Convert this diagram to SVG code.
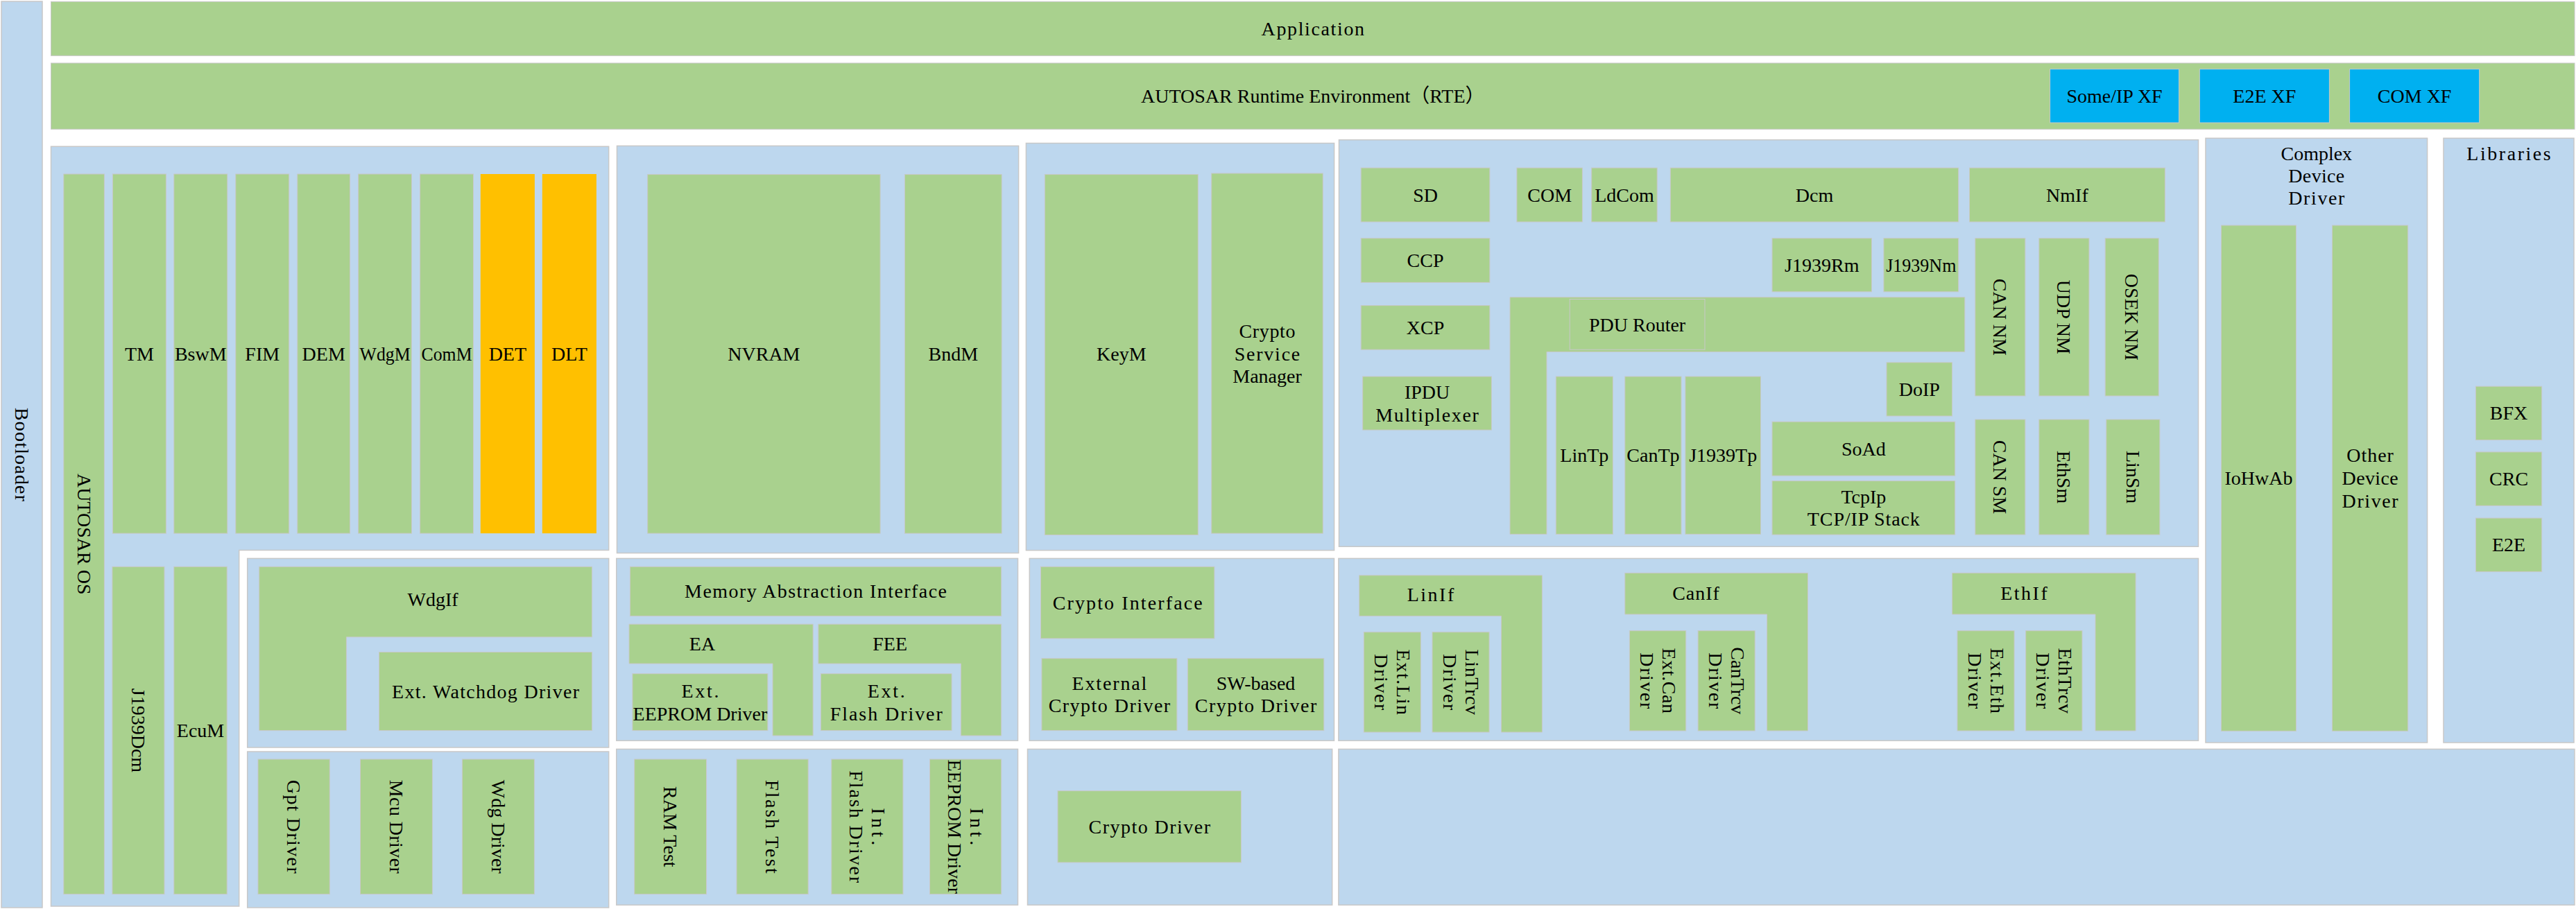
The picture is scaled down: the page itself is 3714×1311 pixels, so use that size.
<svg xmlns="http://www.w3.org/2000/svg" width="3714" height="1311" viewBox="0 0 3714 1311">
<style>
.p{fill:#BDD7EE;stroke:#C8C8C8;stroke-width:1.5}
.g{fill:#A9D18E;stroke:#C8C8C8;stroke-width:1}
.o{fill:#FFC000}
.c{fill:#00B0F0;stroke:#C8C8C8;stroke-width:1}
.f{fill:none;stroke:#C8C8C8;stroke-width:1}
.t{font-family:"Liberation Serif","Noto Sans CJK SC",serif;font-size:28px;fill:#000;text-anchor:middle}
</style>
<rect width="3714" height="1311" fill="#FFFFFF"/>
<g id="panels">
<g id="bootloader"><rect class="p" x="2" y="2" width="59" height="1307"/><text class="t" transform="translate(31.5,655.5) rotate(90)" x="0" y="9.5" textLength="135">Bootloader</text></g>
<g id="application"><rect class="g" x="73.5" y="2.3" width="3638.5" height="78"/><text class="t" x="1892.8" y="50.8" textLength="148.5">Application</text></g>
<g id="rte"><rect class="g" x="73.5" y="91" width="3638.5" height="95.3"/><text class="t" x="1892.8" y="148">AUTOSAR Runtime Environment（RTE）</text></g>
<path id="os-panel" class="p" d="M73.5,211.3H877.7V793.5H344.7V1307H73.5Z"/>
<rect id="nvram-panel" class="p" x="889.5" y="210.4" width="579.1" height="587.2"/>
<rect id="crypto-panel" class="p" x="1479.4" y="206.5" width="444.2" height="587.2"/>
<rect id="com-panel" class="p" x="1930.5" y="201.7" width="1239" height="586.6"/>
<g id="cdd"><rect class="p" x="3180" y="199.3" width="319.6" height="871.7"/><text class="t"><tspan x="3339.8" y="231">Complex</tspan><tspan x="3339.8" y="263" textLength="81">Device</tspan><tspan x="3339.8" y="295" textLength="81">Driver</tspan></text></g>
<g id="libraries"><rect class="p" x="3523" y="199.3" width="188" height="871.7"/><text class="t" x="3617" y="231.2" textLength="121.5">Libraries</text></g>
<rect id="wdg-panel" class="p" x="356.7" y="805.4" width="521" height="272.6"/>
<rect id="mcu-panel" class="p" x="356.7" y="1084" width="521" height="225"/>
<rect id="mem-panel" class="p" x="888.8" y="805.4" width="578.7" height="262.8"/>
<rect id="memdrv-panel" class="p" x="888.8" y="1080.4" width="578.7" height="224.8"/>
<rect id="cryif-panel" class="p" x="1484.3" y="805.4" width="439.2" height="262.8"/>
<rect id="crydrv-panel" class="p" x="1481.5" y="1080.4" width="439.2" height="224.8"/>
<rect id="bus-panel" class="p" x="1929.9" y="805.4" width="1239.6" height="262.8"/>
<rect id="bottom-panel" class="p" x="1929.9" y="1080.4" width="1782" height="224.8"/>
</g>
<g id="nodes">
<g id="someip-xf"><rect class="c" x="2955.6" y="99.7" width="186" height="77.3"/><text class="t" x="3048.6" y="147.85">Some/IP XF</text></g>
<g id="e2e-xf"><rect class="c" x="3171.3" y="99.7" width="187.1" height="77.3"/><text class="t" x="3264.85" y="147.85">E2E XF</text></g>
<g id="com-xf"><rect class="c" x="3387.6" y="99.7" width="187.1" height="77.3"/><text class="t" x="3481.15" y="147.85">COM XF</text></g>

<g id="autosar-os"><rect class="g" x="91.8" y="251" width="58.6" height="1038.6"/><text class="t" transform="translate(121.1,770.3) rotate(90)" x="0" y="9.5">AUTOSAR OS</text></g>
<g id="tm"><rect class="g" x="162.4" y="251" width="77" height="518.2"/><text class="t" x="200.9" y="519.6">TM</text></g>
<g id="bswm"><rect class="g" x="250.8" y="251" width="77" height="518.2"/><text class="t" x="289.3" y="519.6">BswM</text></g>
<g id="fim"><rect class="g" x="339.8" y="251" width="76.9" height="518.2"/><text class="t" x="378.25" y="519.6">FIM</text></g>
<g id="dem"><rect class="g" x="428.8" y="251" width="75.8" height="518.2"/><text class="t" x="466.7" y="519.6">DEM</text></g>
<g id="wdgm"><rect class="g" x="516.6" y="251" width="76.9" height="518.2"/><text class="t" transform="translate(555.05,519.6) scale(0.92,1)">WdgM</text></g>
<g id="comm"><rect class="g" x="605.6" y="251" width="76.9" height="518.2"/><text class="t" transform="translate(644.05,519.6) scale(0.92,1)">ComM</text></g>
<g id="det"><rect class="o" x="692.8" y="251" width="78.1" height="518.2"/><text class="t" x="731.85" y="519.6">DET</text></g>
<g id="dlt"><rect class="o" x="781.8" y="251" width="78.1" height="518.2"/><text class="t" x="820.85" y="519.6">DLT</text></g>
<g id="j1939dcm"><rect class="g" x="161.9" y="817.3" width="75.1" height="472.3"/><text class="t" transform="translate(199.45,1053.45) rotate(90)" x="0" y="9.5">J1939Dcm</text></g>
<g id="ecum"><rect class="g" x="250.8" y="817.3" width="76.4" height="472.3"/><text class="t" x="289" y="1062.95">EcuM</text></g>

<g id="nvram"><rect class="g" x="933.7" y="251.6" width="335.4" height="517.6"/><text class="t" x="1101.4" y="519.9">NVRAM</text></g>
<g id="bndm"><rect class="g" x="1304.4" y="251.6" width="139.8" height="517.6"/><text class="t" x="1374.3" y="519.9">BndM</text></g>

<g id="keym"><rect class="g" x="1506.3" y="251.6" width="221" height="519.9"/><text class="t" x="1616.8" y="519.5">KeyM</text></g>
<g id="csm"><rect class="g" x="1746.7" y="250" width="160.6" height="519.2"/><text class="t"><tspan x="1827" y="487" textLength="81">Crypto</tspan><tspan x="1827" y="519.5" textLength="94.5">Service</tspan><tspan x="1827" y="552">Manager</tspan></text></g>

<g id="sd"><rect class="g" x="1962.2" y="242.1" width="185.7" height="77.9"/><text class="t" x="2055.05" y="290.55">SD</text></g>
<g id="com"><rect class="g" x="2186.9" y="242.1" width="94.5" height="77.9"/><text class="t" x="2234.15" y="290.55">COM</text></g>
<g id="ldcom"><rect class="g" x="2294.7" y="242.1" width="94.5" height="77.9"/><text class="t" x="2341.95" y="290.55">LdCom</text></g>
<g id="dcm"><rect class="g" x="2408.3" y="242.1" width="415.4" height="77.9"/><text class="t" x="2616" y="290.55">Dcm</text></g>
<g id="nmif"><rect class="g" x="2839.5" y="242.1" width="281.9" height="77.9"/><text class="t" x="2980.45" y="290.55">NmIf</text></g>
<g id="ccp"><rect class="g" x="1962.2" y="343.7" width="185.7" height="63.7"/><text class="t" x="2055.05" y="385.05">CCP</text></g>
<g id="xcp"><rect class="g" x="1962.2" y="440.6" width="185.7" height="63.6"/><text class="t" x="2055.05" y="481.9">XCP</text></g>
<g id="ipdum"><rect class="g" x="1964.7" y="543" width="185.7" height="77.1"/><text class="t"><tspan x="2057.55" y="574.55">IPDU</tspan><tspan x="2057.55" y="607.55" textLength="148.5">Multiplexer</tspan></text></g>
<g id="j1939rm"><rect class="g" x="2555" y="343.7" width="143.5" height="77.1"/><text class="t" x="2626.75" y="391.75">J1939Rm</text></g>
<g id="j1939nm"><rect class="g" x="2715.9" y="343.7" width="107.8" height="77.1"/><text class="t" transform="translate(2769.8,391.75) scale(0.93,1)">J1939Nm</text></g>
<g id="pdur"><path class="g" d="M2177,428.7H2832.8V507.4H2230V770.4H2177Z"/><rect class="f" x="2263.2" y="431.5" width="194.8" height="72.7"/><text class="t" x="2360.6" y="477.5">PDU Router</text></g>
<g id="lintp"><rect class="g" x="2243.3" y="543" width="82.1" height="227.4"/><text class="t" x="2284.35" y="666.2">LinTp</text></g>
<g id="cantp"><rect class="g" x="2342.8" y="543" width="81.2" height="227.4"/><text class="t" x="2383.4" y="666.2">CanTp</text></g>
<g id="j1939tp"><rect class="g" x="2429.9" y="543" width="108.6" height="227.4"/><text class="t" x="2484.2" y="666.2">J1939Tp</text></g>
<g id="doip"><rect class="g" x="2720" y="522.8" width="94.6" height="77.2"/><text class="t" x="2767.3" y="570.9">DoIP</text></g>
<g id="soad"><rect class="g" x="2555" y="608.2" width="263.7" height="77.9"/><text class="t" x="2686.85" y="656.65">SoAd</text></g>
<g id="tcpip"><rect class="g" x="2555" y="693.6" width="263.7" height="77.5"/><text class="t"><tspan x="2686.85" y="725.85">TcpIp</tspan><tspan x="2686.85" y="757.85" textLength="162">TCP/IP Stack</tspan></text></g>
<g id="cannm"><rect class="g" x="2847.8" y="343.7" width="72.1" height="227.3"/><text class="t" transform="translate(2883.85,457.35) rotate(90)" x="0" y="9.5">CAN NM</text></g>
<g id="udpnm"><rect class="g" x="2939.8" y="343.7" width="72.2" height="227.3"/><text class="t" transform="translate(2975.9,457.35) rotate(90)" x="0" y="9.5">UDP NM</text></g>
<g id="oseknm"><rect class="g" x="3035.2" y="343.7" width="77.1" height="227.3"/><text class="t" transform="translate(3073.75,457.35) rotate(90)" x="0" y="9.5">OSEK NM</text></g>
<g id="cansm"><rect class="g" x="2847.8" y="605" width="72.1" height="166.1"/><text class="t" transform="translate(2883.85,688.05) rotate(90)" x="0" y="9.5">CAN SM</text></g>
<g id="ethsm"><rect class="g" x="2939.8" y="605" width="72.2" height="166.1"/><text class="t" transform="translate(2975.9,688.05) rotate(90)" x="0" y="9.5">EthSm</text></g>
<g id="linsm"><rect class="g" x="3036.8" y="605" width="77.1" height="166.1"/><text class="t" transform="translate(3075.35,688.05) rotate(90)" x="0" y="9.5">LinSm</text></g>

<g id="iohwab"><rect class="g" x="3202.5" y="325" width="108" height="729.3"/><text class="t" x="3256.5" y="699.15">IoHwAb</text></g>
<g id="odd"><rect class="g" x="3362.5" y="325" width="109.2" height="729.3"/><text class="t"><tspan x="3417.1" y="666.15" textLength="67.5">Other</tspan><tspan x="3417.1" y="699.15" textLength="81">Device</tspan><tspan x="3417.1" y="732.15" textLength="81">Driver</tspan></text></g>
<g id="bfx"><rect class="g" x="3569.4" y="557.2" width="95.3" height="77.4"/><text class="t" x="3617.05" y="605.4">BFX</text></g>
<g id="crc"><rect class="g" x="3569.4" y="651.9" width="95.3" height="77.4"/><text class="t" x="3617.05" y="700.1">CRC</text></g>
<g id="e2e"><rect class="g" x="3569.4" y="747.2" width="95.3" height="77.4"/><text class="t" x="3617.05" y="795.4">E2E</text></g>

<g id="wdgif"><path class="g" d="M373.7,817.3H853.6V918.8H499.4V1053.6H373.7Z"/><text class="t" x="624" y="874.2">WdgIf</text></g>
<g id="extwdg"><rect class="g" x="546.5" y="940.5" width="307.1" height="113.1"/><text class="t" x="700.05" y="1006.55" textLength="270">Ext. Watchdog Driver</text></g>
<g id="gpt"><rect class="g" x="372" y="1095" width="103.3" height="194.6"/><text class="t" transform="translate(423.65,1192.3) rotate(90)" x="0" y="9.5" textLength="135">Gpt Driver</text></g>
<g id="mcu"><rect class="g" x="519.5" y="1095" width="103.9" height="194.6"/><text class="t" transform="translate(571.45,1192.3) rotate(90)" x="0" y="9.5" textLength="135">Mcu Driver</text></g>
<g id="wdg"><rect class="g" x="666.4" y="1095" width="104" height="194.6"/><text class="t" transform="translate(718.4,1192.3) rotate(90)" x="0" y="9.5" textLength="135">Wdg Driver</text></g>

<g id="memif"><rect class="g" x="908.4" y="817.3" width="535.3" height="71.1"/><text class="t" x="1176.05" y="862.35" textLength="378">Memory Abstraction Interface</text></g>
<g id="ea"><path class="g" d="M907,900.2H1172.2V1061H1114V957.1H907Z"/><text class="t" x="1012.5" y="938.1">EA</text></g>
<g id="exteeprom"><rect class="g" x="911.9" y="971.7" width="195" height="81.9"/><text class="t"><tspan x="1009.4" y="1005.9" textLength="54">Ext.</tspan><tspan x="1009.4" y="1038.5">EEPROM Driver</tspan></text></g>
<g id="fee"><path class="g" d="M1179.9,900.2H1443.7V1061H1385.4V957.1H1179.9Z"/><text class="t" x="1283.2" y="938.1">FEE</text></g>
<g id="extflash"><rect class="g" x="1183.4" y="971.7" width="188.7" height="81.9"/><text class="t"><tspan x="1277.75" y="1005.9" textLength="54">Ext.</tspan><tspan x="1277.75" y="1038.5" textLength="162">Flash Driver</tspan></text></g>
<g id="ramtest"><rect class="g" x="914.7" y="1095" width="103.8" height="194.6"/><text class="t" transform="translate(966.6,1192.3) rotate(90)" x="0" y="9.5">RAM Test</text></g>
<g id="flashtest"><rect class="g" x="1062" y="1095" width="103.2" height="194.6"/><text class="t" transform="translate(1113.6,1192.3) rotate(90)" x="0" y="9.5" textLength="135">Flash Test</text></g>
<g id="intflash"><rect class="g" x="1198.8" y="1095" width="103.2" height="194.6"/><text class="t" transform="translate(1250.4,1192.3) rotate(90)"><tspan x="0" y="-6.5" textLength="54">Int.</tspan><tspan x="0" y="25.5" textLength="162">Flash Driver</tspan></text></g>
<g id="inteeprom"><rect class="g" x="1340.5" y="1095" width="103.2" height="194.6"/><text class="t" transform="translate(1392.1,1192.3) rotate(90)"><tspan x="0" y="-6.5" textLength="54">Int.</tspan><tspan x="0" y="25.5">EEPROM Driver</tspan></text></g>

<g id="cryif"><rect class="g" x="1500.5" y="817.3" width="250.4" height="103.6"/><text class="t" x="1625.7" y="878.6" textLength="216">Crypto Interface</text></g>
<g id="extcry"><rect class="g" x="1501.9" y="949.7" width="195" height="103.9"/><text class="t"><tspan x="1599.4" y="995.1" textLength="108">External</tspan><tspan x="1599.4" y="1027.1" textLength="175.5">Crypto Driver</tspan></text></g>
<g id="swcry"><rect class="g" x="1712.3" y="949.7" width="196.5" height="103.9"/><text class="t"><tspan x="1810.55" y="995.1">SW-based</tspan><tspan x="1810.55" y="1027.1" textLength="175.5">Crypto Driver</tspan></text></g>
<g id="crydrv"><rect class="g" x="1525" y="1140.6" width="264.5" height="103.3"/><text class="t" x="1657.25" y="1201.75" textLength="175.5">Crypto Driver</text></g>

<g id="linif"><path class="g" d="M1959.7,829.8H2223.4V1056H2164.5V888.4H1959.7Z"/><text class="t" x="2062.5" y="866.5" textLength="67.5">LinIf</text></g>
<g id="extlin"><rect class="g" x="1966.3" y="911.7" width="82.1" height="144.3"/><text class="t" transform="translate(2007.35,983.85) rotate(90)"><tspan x="0" y="-6.5" textLength="94.5">Ext.Lin</tspan><tspan x="0" y="25.5" textLength="81">Driver</tspan></text></g>
<g id="lintrcv"><rect class="g" x="2065" y="911.7" width="82.1" height="144.3"/><text class="t" transform="translate(2106.05,983.85) rotate(90)"><tspan x="0" y="-6.5" textLength="94.5">LinTrcv</tspan><tspan x="0" y="25.5" textLength="81">Driver</tspan></text></g>
<g id="canif"><path class="g" d="M2342.8,826.4H2606.5V1054H2547.6V886H2342.8Z"/><text class="t" x="2445" y="864.5" textLength="67.5">CanIf</text></g>
<g id="extcan"><rect class="g" x="2349.4" y="909.7" width="81.3" height="144.3"/><text class="t" transform="translate(2390.05,981.85) rotate(90)"><tspan x="0" y="-6.5" textLength="94.5">Ext.Can</tspan><tspan x="0" y="25.5" textLength="81">Driver</tspan></text></g>
<g id="cantrcv"><rect class="g" x="2448.1" y="909.7" width="82.1" height="144.3"/><text class="t" transform="translate(2489.15,981.85) rotate(90)"><tspan x="0" y="-6.5">CanTrcv</tspan><tspan x="0" y="25.5" textLength="81">Driver</tspan></text></g>
<g id="ethif"><path class="g" d="M2814.6,826.4H3079.1V1054H3021V886H2814.6Z"/><text class="t" x="2918" y="864.5" textLength="67.5">EthIf</text></g>
<g id="exteth"><rect class="g" x="2822" y="909.7" width="82.1" height="144.3"/><text class="t" transform="translate(2863.05,981.85) rotate(90)"><tspan x="0" y="-6.5" textLength="94.5">Ext.Eth</tspan><tspan x="0" y="25.5" textLength="81">Driver</tspan></text></g>
<g id="ethtrcv"><rect class="g" x="2920.7" y="909.7" width="81.3" height="144.3"/><text class="t" transform="translate(2961.35,981.85) rotate(90)"><tspan x="0" y="-6.5" textLength="94.5">EthTrcv</tspan><tspan x="0" y="25.5" textLength="81">Driver</tspan></text></g>
</g>
<g id="connectors"/>
</svg>
